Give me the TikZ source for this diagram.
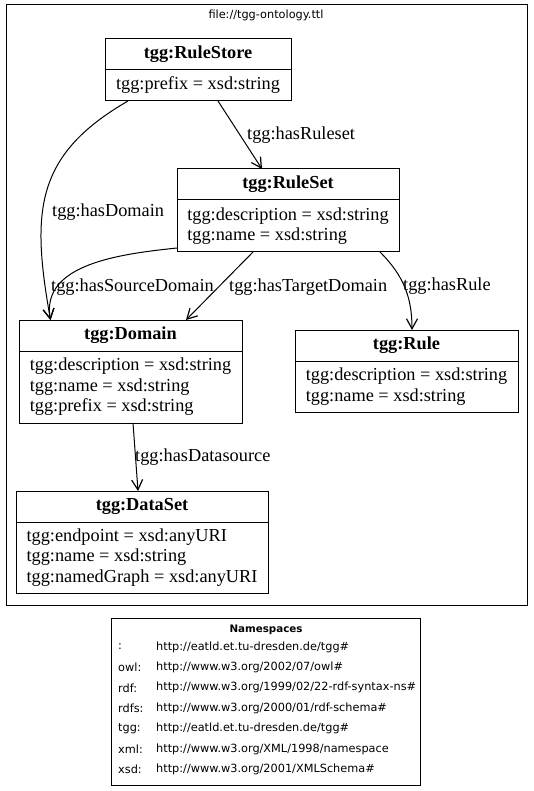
\documentclass[tikz,border=0pt]{standalone}
\usepackage{fontspec}
\setmainfont{Liberation Serif}
\newfontfamily\tggSans{DejaVu Sans}
\usetikzlibrary{arrows.meta}
\newcommand{\tggFont}{\fontsize{18.3}{20.5}\selectfont}
\newcommand{\tggSansFont}{\tggSans\fontsize{11.3}{13}\selectfont}
% class box: name, centre x, top y, width, body height, title, attributes
\newcommand{\tggClass}[7]{%
  \node[tggHead, minimum width=#4] (#1Head) at (#2,#3) {#6};
  \node[tggBody, minimum width=#4, minimum height=#5] (#1Body) at (#1Head.south) {#7};
}

\begin{document}
\begin{tikzpicture}[x=1pt,y=-1pt,
  tggHead/.style={draw, line width=1pt, inner sep=0pt, outer sep=0pt, minimum height=31, anchor=north, font=\tggFont\bfseries},
  tggBody/.style={draw, line width=1pt, inner sep=0pt, outer sep=0pt, anchor=north, align=left, font=\tggFont},
  tggEdge/.style={line width=1pt, -{Straight Barb[length=10pt,width=11pt,line width=1.2pt]}},
  tggLabel/.style={anchor=west, inner sep=0pt, font=\tggFont},
  nsText/.style={anchor=west, inner sep=0pt, font=\tggSansFont}]
\useasboundingbox (0,0) rectangle (533,791);

% ontology file
\draw[line width=1pt] (6,5) rectangle (527,605);
\node[inner sep=0pt, font=\tggSansFont] (fileTitle) at (266,15) {file://tgg-ontology.ttl};

\tggClass{ruleStore}{198}{39}{186}{31}{tgg:RuleStore}{tgg:prefix = xsd:string}
\tggClass{ruleSet}{288}{169}{222}{52}{tgg:RuleSet}{tgg:description = xsd:string\\tgg:name = xsd:string}
\tggClass{domain}{130.5}{320}{223}{72}{tgg:Domain}{tgg:description = xsd:string\\tgg:name = xsd:string\\tgg:prefix = xsd:string}
\tggClass{rule}{406.5}{330}{223}{51}{tgg:Rule}{tgg:description = xsd:string\\tgg:name = xsd:string}
\tggClass{dataSet}{142}{491}{252}{71}{tgg:DataSet}{tgg:endpoint = xsd:anyURI\\tgg:name = xsd:string\\tgg:namedGraph = xsd:anyURI}

% properties
\draw[tggEdge] ([xshift=20]ruleStoreBody.south) -- ([xshift=-26]ruleSetHead.north);
\draw[tggEdge] ([xshift=-70]ruleStoreBody.south) to[out=210, in=100, looseness=1.2] ([xshift=-80]domainHead.north);
\draw[tggEdge] ([yshift=4]ruleSetBody.south west) to[out=186, in=100] ([xshift=-80]domainHead.north);
\draw[tggEdge] ([xshift=-35]ruleSetBody.south) -- ([xshift=55.5]domainHead.north);
\draw[tggEdge] ([xshift=92]ruleSetBody.south) to[out=-45, in=90] ([xshift=5.5]ruleHead.north);
\draw[tggEdge] ([xshift=2.5]domainBody.south) -- ([xshift=-4]dataSetHead.north);

\node[tggLabel] (lblRuleset) at (247,135) {tgg:hasRuleset};
\node[tggLabel] (lblDomain) at (52,212) {tgg:hasDomain};
\node[tggLabel] (lblSource) at (51,287) {tgg:hasSourceDomain};
\node[tggLabel] (lblTarget) at (229,287) {tgg:hasTargetDomain};
\node[tggLabel] (lblRule) at (403,286) {tgg:hasRule};
\node[tggLabel] (lblDatasource) at (135,457) {tgg:hasDatasource};

% namespaces
\draw[line width=1pt] (111,618) rectangle (420,785);
\node[inner sep=0pt, font=\tggSans\fontsize{10.3}{12}\selectfont\bfseries] (nsTitle) at (266,630) {Namespaces};
\foreach \pre/\uri [count=\i] in {{:}/{http://eatld.et.tu-dresden.de/tgg\#},
    {owl:}/{http://www.w3.org/2002/07/owl\#},
    {rdf:}/{http://www.w3.org/1999/02/22-rdf-syntax-ns\#},
    {rdfs:}/{http://www.w3.org/2000/01/rdf-schema\#},
    {tgg:}/{http://eatld.et.tu-dresden.de/tgg\#},
    {xml:}/{http://www.w3.org/XML/1998/namespace},
    {xsd:}/{http://www.w3.org/2001/XMLSchema\#}}{
  \node[nsText] (nsPre\i) at (118,{626.6+20.4*\i}) {\pre};
  \node[nsText] (nsUri\i) at (156,{626.6+20.4*\i}) {\uri};
}
\end{tikzpicture}
\end{document}
